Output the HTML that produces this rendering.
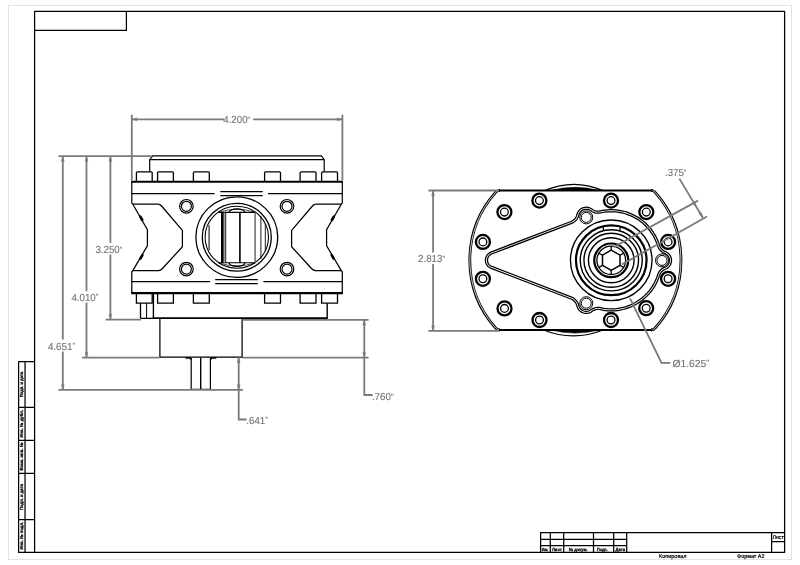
<!DOCTYPE html>
<html lang="ru">
<head>
<meta charset="utf-8">
<title>Drawing</title>
<style>
html,body{margin:0;padding:0;background:#fff;}
body{width:800px;height:565px;overflow:hidden;font-family:"Liberation Sans",sans-serif;}
svg{display:block;position:absolute;left:0;top:0;will-change:transform;}
.k{stroke:#000;fill:none;stroke-width:1.25;}
.k2{stroke:#000;fill:none;stroke-width:1.9;}
.kt{stroke:#000;fill:none;stroke-width:0.8;}
.w{stroke:#000;fill:#fff;stroke-width:1.1;}
.g{stroke:#7a7a7a;fill:none;stroke-width:1.8;}
.ga{fill:#7a7a7a;stroke:#7a7a7a;stroke-width:0.5;stroke-linejoin:round;}
.dim{font-family:"Liberation Sans",sans-serif;font-size:10.2px;fill:#747474;stroke:#747474;stroke-width:0.12px;text-rendering:geometricPrecision;}
.tiny{text-rendering:geometricPrecision;font-family:"Liberation Sans",sans-serif;font-size:4.4px;fill:#000;font-weight:bold;stroke:#000;stroke-width:0.25px;}
.sm{text-rendering:geometricPrecision;font-family:"Liberation Sans",sans-serif;font-size:5.6px;fill:#000;stroke:#000;stroke-width:0.2px;}
</style>
</head>
<body>
<svg width="800" height="565" viewBox="0 0 800 565">
<rect x="0" y="0" width="800" height="565" fill="#fff"/>

<!-- sheet edge -->
<g id="sheet">
<rect x="8.5" y="5.5" width="783" height="554" fill="none" stroke="#e2e2e2" style="stroke-width:1"/>
</g>

<!-- frame -->
<g id="frame" class="k" style="stroke-width:1.25;stroke-linejoin:round">
<rect x="34.6" y="11.4" width="750" height="541"/>
<path d="M34.6,30.4 H126.4 V11.4"/>
<path d="M34.6,361.5 H18.6 V552.4 H34.6"/>
<path d="M25.05,361.5 V552.4"/>
<path d="M18.6,407.3 H34.6 M18.6,440.3 H34.6 M18.6,473.4 H34.6 M18.6,519.5 H34.6"/>
<path d="M540.6,552.4 V532.6 H784.6"/>
<path d="M550.3,532.6 V552.4 M563.7,532.6 V552.4 M593.5,532.6 V552.4 M613.7,532.6 V552.4 M626.7,532.6 V552.4"/>
<path d="M540.6,539.4 H626.6 M540.6,545.7 H626.6"/>
<path d="M771.6,532.6 V552.4 M771.6,541.6 H784.6"/>
</g>

<!-- frame texts -->
<g id="frametext">
<g text-anchor="middle">
<text class="tiny" transform="translate(22.9,384.5) rotate(-90)" textLength="25.4" lengthAdjust="spacingAndGlyphs">Подп. и дата</text>
<text class="tiny" transform="translate(22.9,423.8) rotate(-90)" textLength="27.6" lengthAdjust="spacingAndGlyphs">Инв. № дубл.</text>
<text class="tiny" transform="translate(22.9,456.6) rotate(-90)" textLength="28" lengthAdjust="spacingAndGlyphs">Взам. инв. №</text>
<text class="tiny" transform="translate(22.9,497) rotate(-90)" textLength="26" lengthAdjust="spacingAndGlyphs">Подп. и дата</text>
<text class="tiny" transform="translate(22.9,535.6) rotate(-90)" textLength="27.6" lengthAdjust="spacingAndGlyphs">Инв. № подл.</text>
</g>
<text class="tiny" x="541.8" y="551" textLength="6.6" lengthAdjust="spacingAndGlyphs">Изм.</text>
<text class="tiny" x="551.9" y="551" textLength="10" lengthAdjust="spacingAndGlyphs">Лист</text>
<text class="tiny" x="568.7" y="551" textLength="18.8" lengthAdjust="spacingAndGlyphs">№ докум.</text>
<text class="tiny" x="596.9" y="551" textLength="10.8" lengthAdjust="spacingAndGlyphs">Подп.</text>
<text class="tiny" x="615.6" y="551" textLength="9.4" lengthAdjust="spacingAndGlyphs">Дата</text>
<text class="sm" x="772.6" y="538.5" textLength="11.2" lengthAdjust="spacingAndGlyphs">Лист</text>
<text class="sm" x="659" y="557.8" textLength="27.5" lengthAdjust="spacingAndGlyphs">Копировал</text>
<text class="sm" x="737" y="558" textLength="27.5" lengthAdjust="spacingAndGlyphs">Формат A2</text>
</g>

<!-- ============ LEFT VIEW ============ -->
<g id="leftview">
<!-- top cap -->
<path class="k" d="M149.7,171.7 V159.6 L152.6,155.9 H321.4 L324.2,159.6 V171.7" style="stroke-width:1.2"/><path class="k" d="M149.7,159.6 H324.2" style="stroke-width:1.25"/>
<!-- top bolts -->
<g class="k" style="stroke-width:1.3">
<path d="M136.4,181.5 V172.7 Q136.4,171.8 137.4,171.8 H151.2 Q152.2,171.8 152.2,172.7 V181.5"/>
<path d="M157.6,181.5 V172.7 Q157.6,171.8 158.6,171.8 H172.4 Q173.4,171.8 173.4,172.7 V181.5"/>
<path d="M193.4,181.5 V172.7 Q193.4,171.8 194.4,171.8 H208.3 Q209.3,171.8 209.3,172.7 V181.5"/>
<path d="M264.6,181.5 V172.7 Q264.6,171.8 265.6,171.8 H279.5 Q280.5,171.8 280.5,172.7 V181.5"/>
<path d="M300.1,181.5 V172.7 Q300.1,171.8 301.1,171.8 H315 Q316,171.8 316,172.7 V181.5"/>
<path d="M321.6,181.5 V172.7 Q321.6,171.8 322.6,171.8 H336.5 Q337.5,171.8 337.5,172.7 V181.5"/>
</g>
<!-- upper flange -->
<path class="k2" d="M131.2,181.7 H342.9"/>
<path class="k" d="M131.8,181.7 V203 L133,204.2 H158.3 M342.3,181.7 V203 L341.2,204.2 H315.7" style="stroke-width:1.2"/>
<path class="k" d="M131.8,193.5 H214.6 M267.9,193.5 H342.3"/>
<path class="k" d="M220.3,191.5 H262.7 M220.3,195.5 H262.7"/>
<!-- body sides -->
<path class="k" d="M158.3,204.2 Q160.5,204.6 162,206.5 L182.4,230.4 V246.7 L162.5,268.5 Q161,270.3 158.8,270.6 H133 L131.8,271.8 V293"/>
<path class="k" d="M315.7,204.2 Q313.5,204.6 312,206.5 L291.6,230.4 V246.7 L311.5,268.5 Q313,270.3 315.2,270.6 H341.2 L342.3,271.8 V293"/>
<path class="k" d="M132.8,204.2 L147.4,229.6 V245.8 L132.8,270.6"/>
<path class="k" d="M341.3,204.2 L326.6,229.6 V245.8 L341.3,270.6"/>
<path class="k" stroke-linecap="round" d="M140.3,216.6 L142.2,220 M140.6,258.3 L142.4,255.2 M333.8,216.6 L331.9,220 M333.5,258.3 L331.7,255.2" style="stroke-width:2.6"/>
<!-- lower flange -->
<path class="k" d="M131.8,281.6 H210 M263.4,281.6 H342.3"/>
<path class="k" d="M215.2,279.7 H257.9 M215.2,283.5 H257.9"/>
<path class="k2" d="M131.2,293.1 H342.9" style="stroke-width:2.2"/>
<!-- bolt holes -->
<g class="k">
<circle cx="186.4" cy="206.3" r="6.8" style="stroke-width:1.2"/><circle cx="186.4" cy="206.3" r="5" style="stroke-width:1.2"/>
<circle cx="287" cy="206.3" r="6.8" style="stroke-width:1.2"/><circle cx="287" cy="206.3" r="5" style="stroke-width:1.2"/>
<circle cx="186.4" cy="269.1" r="6.8" style="stroke-width:1.2"/><circle cx="186.4" cy="269.1" r="5" style="stroke-width:1.2"/>
<circle cx="287" cy="269.1" r="6.8" style="stroke-width:1.2"/><circle cx="287" cy="269.1" r="5" style="stroke-width:1.2"/>
</g>
<!-- central port -->
<g class="k">
<ellipse cx="236.8" cy="237.1" rx="40.9" ry="40.3" style="stroke-width:1.3"/>
<ellipse cx="236.8" cy="237.3" rx="34.5" ry="33.9" style="stroke-width:1.3"/>
<ellipse cx="236.8" cy="237.3" rx="31.7" ry="31" style="stroke-width:1.05"/>
<path d="M218.5,212.4 H255.3 M218.5,262.8 H255.3" style="stroke-width:1.1"/>
<path d="M228.9,212.4 Q230.4,208.9 237,208.9 Q243.6,208.9 245.1,212.4 M228.9,262.8 Q230.4,266.4 237,266.4 Q243.6,266.4 245.1,262.8" style="stroke-width:1.15"/>
<path d="M218.5,212.4 Q228,209.2 237,209.2 Q246,209.2 255.3,212.4 M218.5,262.8 Q228,266 237,266 Q246,266 255.3,262.8" style="stroke-width:0.7"/>
<path d="M222.4,212.4 V262.8" style="stroke-width:2.8"/>
<path d="M224.3,212.4 V262.8" style="stroke-width:1.2;stroke:#999"/><path d="M225.7,212.4 V262.8" style="stroke-width:0.9"/>
<path d="M239.9,212.4 V262.8" style="stroke-width:1.6"/>
<path d="M255.1,212.4 V262.8" stroke="#555" style="stroke-width:1.3"/>
<path d="M260.9,216 V259" style="stroke-width:0.9"/>
<path d="M265.3,224 V251" style="stroke-width:0.9"/>
<path d="M209.1,225 V250.5" style="stroke-width:1.4;stroke:#444"/>
</g>
<!-- lower bolts -->
<g class="k" style="stroke-width:1.3">
<path d="M136.4,293 V303.2 H152.2 V293"/>
<path d="M157.6,293 V303.2 H173.4 V293"/>
<path d="M193.4,293 V303.2 H209.3 V293"/>
<path d="M264.6,293 V303.2 H280.5 V293"/>
<path d="M300.1,293 V303.2 H316 V293"/>
<path d="M321.6,293 V303.2 H337.5 V293"/>
</g>
<!-- lower cap -->
<path class="k" d="M153.4,293 V318.2 M327.2,303.2 V318.2" style="stroke-width:1.4"/>
<path class="k" d="M140.5,303.2 V317.4 Q140.5,318.4 141.5,318.4 H153" style="stroke-width:1.3"/><path class="k" d="M152.8,318.2 H327.8" style="stroke-width:1.7"/>
<path class="k" d="M146.6,303.2 V318" style="stroke-width:1"/>
<!-- cylinder -->
<path class="k" d="M159.9,318.8 V357.2 H242.1 V318.8" style="stroke-width:1.25"/>
<!-- shaft -->
<path class="k" d="M191.2,358 V389.4 H210.4 V358" style="stroke-width:1.2"/><path class="k" d="M185.5,358 H190 L191.2,359.6 M216.3,358 H211.6 L210.4,359.6" style="stroke-width:1.5"/>
<path class="k" d="M200.7,357.4 V389.4" style="stroke-width:1.4"/>
</g>

<!-- ============ LEFT VIEW DIMENSIONS ============ -->
<g id="leftdims">
<!-- 4.200 -->
<path class="g" d="M131.8,114.7 V180.6 M342.4,114.7 V180.6"/>
<path class="g" d="M131.8,119.3 H224 M253.2,119.3 H342.4"/>
<path class="ga" d="M131.8,119.3 L137,117.9 V120.7 Z M342.4,119.3 L337.2,117.9 V120.7 Z"/>
<text class="dim" x="223.2" y="123.2" textLength="27.0" lengthAdjust="spacingAndGlyphs">4.200<tspan style="font-size:7.6px" dy="-1.5">"</tspan></text>
<!-- horizontal extension lines -->
<path class="g" d="M58.4,156.1 H152"/>
<path class="g" d="M105.6,319.6 H141 M242.4,319.9 H368.6"/>
<path class="g" d="M82,357.7 H159.5 M242.4,357.6 H368.6"/>
<path class="g" d="M58.4,389.9 H243"/>
<!-- vertical dim lines -->
<path class="g" d="M62.8,156.1 V339.4 M62.8,351.4 V389.9"/>
<path class="g" d="M86.5,156.1 V291.2 M86.5,302.6 V357.7"/>
<path class="g" d="M110.4,156.1 V243 M110.4,254.5 V319.6"/>
<path class="ga" d="M62.8,156.6 L61.4,161.3 H64.2 Z M86.5,156.6 L85.1,161.3 H87.9 Z M110.4,156.6 L109,161.3 H111.8 Z"/>
<path class="ga" d="M62.8,389.4 L61.4,384.7 H64.2 Z M86.5,357.2 L85.1,352.5 H87.9 Z M110.4,319.1 L109,314.4 H111.8 Z"/>
<text class="dim" x="95.4" y="253.1" textLength="26.9" lengthAdjust="spacingAndGlyphs">3.250<tspan style="font-size:7.6px" dy="-1.5">"</tspan></text>
<text class="dim" x="71.4" y="300.6" textLength="27.0" lengthAdjust="spacingAndGlyphs">4.010<tspan style="font-size:7.6px" dy="-1.5">"</tspan></text>
<text class="dim" x="47.9" y="349.5" textLength="27.2" lengthAdjust="spacingAndGlyphs">4.651<tspan style="font-size:7.6px" dy="-1.5">"</tspan></text>
<!-- .760 -->
<path class="g" d="M364.3,319.9 V395 H372.6"/>
<path class="ga" d="M364.2,319.9 L362.8,325.1 H365.6 Z M364.2,357.6 L362.8,352.4 H365.6 Z"/>
<text class="dim" x="371.9" y="400.3" textLength="21.6" lengthAdjust="spacingAndGlyphs">.760<tspan style="font-size:7.6px" dy="-1.5">"</tspan></text>
<!-- .641 -->
<path class="g" d="M238.7,357.6 V419.5 H246.6"/>
<path class="ga" d="M238.7,357.6 L237.3,362.8 H240.1 Z M238.7,389.9 L237.3,384.7 H240.1 Z"/>
<text class="dim" x="246.3" y="423.9" textLength="21.5" lengthAdjust="spacingAndGlyphs">.641<tspan style="font-size:7.6px" dy="-1.5">"</tspan></text>
</g>

<!-- ============ RIGHT VIEW ============ -->
<g id="rightview">
<!-- top/bottom bumps -->
<path class="k" d="M545,190.4 Q574,178.2 602.5,190.4" style="stroke-width:1.3"/>
<path d="M551,190.4 Q575,184.2 599,190.4 Z" fill="#000" stroke="#000" stroke-width="0.6"/>
<path class="k" d="M543.5,330 Q573.5,341.8 603,330" style="stroke-width:1.3"/>
<path d="M551,330 Q575,336.2 599,330 Z" fill="#000" stroke="#000" stroke-width="0.6"/>
<!-- flange outline -->
<path d="M500,190.4 H651 Q653.6,190.4 655.2,192.4 A102,102 0 0 1 655.2,328 Q653.6,330 651,330 H500 Q497.2,330 495.6,328 A102,102 0 0 1 495.6,192.4 Q497.2,190.4 500,190.4 Z" fill="#fff" stroke="none"/>
<g fill="none" stroke="#000" style="stroke-width:2.8">
<path d="M651,190.4 Q653.6,190.4 655.2,192.4 A102,102 0 0 1 655.2,328 Q653.6,330 651,330"/>
<path d="M500,330 Q497.2,330 495.6,328 A102,102 0 0 1 495.6,192.4 Q497.2,190.4 500,190.4"/>
</g>
<g fill="none" stroke="#fff" style="stroke-width:0.8">
<path d="M651,190.4 Q653.6,190.4 655.2,192.4 A102,102 0 0 1 655.2,328 Q653.6,330 651,330"/>
<path d="M500,330 Q497.2,330 495.6,328 A102,102 0 0 1 495.6,192.4 Q497.2,190.4 500,190.4"/>
</g>
<path class="k2" d="M499,190.4 H652.5 M499,330 H652.5" style="stroke-width:2"/>
<!-- plate (double outline) -->
<path class="k" style="stroke-width:1.25;stroke-linejoin:round" d="M570.9,299.0 572.2,299.6 573.3,300.4 574.4,301.3 575.1,302.2 575.8,303.2 576.3,304.2 576.6,305.1 577.1,306.8 577.6,308.1 578.4,309.3 579.4,310.5 580.6,311.6 581.9,312.4 583.5,313.0 585.0,313.3 586.1,313.4 587.1,313.4 588.2,313.2 589.2,312.9 590.1,312.6 591.0,312.2 593.0,310.8 594.0,310.3 595.3,309.8 596.6,309.5 598.0,309.4 599.2,309.5 603.8,310.3 607.6,310.8 611.3,310.9 615.0,310.8 616.9,310.6 619.3,310.3 623.0,309.5 625.3,308.9 627.1,308.3 628.9,307.7 631.2,306.8 634.0,305.5 636.7,304.0 639.3,302.4 641.9,300.6 644.3,298.6 647.0,296.1 649.1,293.8 651.1,291.5 652.6,289.5 653.7,287.9 655.0,285.8 656.2,283.6 657.0,281.9 658.0,279.6 658.9,277.4 659.9,274.5 660.4,273.5 660.9,272.7 662.0,271.4 663.2,270.4 664.4,269.7 666.5,268.8 667.3,268.3 668.0,267.8 669.2,266.6 669.8,265.8 670.3,265.0 670.8,264.1 671.1,263.1 671.4,262.1 671.5,260.9 671.5,259.8 671.4,258.7 671.1,257.7 670.8,256.7 670.3,255.8 669.7,254.9 669.1,254.1 668.2,253.2 667.5,252.7 666.7,252.2 665.9,251.7 664.5,251.1 663.3,250.4 662.0,249.4 661.0,248.2 660.5,247.4 659.9,246.3 658.9,243.2 658.0,241.0 657.0,238.7 655.9,236.4 654.3,233.8 653.0,231.7 651.5,229.6 650.0,227.7 648.3,225.9 647.0,224.5 645.3,222.8 643.8,221.6 641.9,220.0 640.4,218.9 638.8,217.9 636.8,216.6 635.1,215.7 632.9,214.6 631.2,213.8 628.9,212.9 627.1,212.2 624.8,211.5 622.9,211.1 620.5,210.6 618.1,210.2 615.6,209.9 612.5,209.7 610.0,209.7 607.5,209.8 605.0,210.1 602.6,210.4 599.0,211.1 598.0,211.2 597.1,211.1 595.5,210.9 594.0,210.3 593.0,209.8 591.1,208.5 589.6,207.8 588.0,207.4 586.3,207.2 585.5,207.2 584.5,207.4 583.6,207.6 582.7,207.9 581.8,208.3 581.0,208.7 580.2,209.3 579.5,209.9 578.5,211.1 577.6,212.5 577.1,213.7 576.6,215.4 576.3,216.2 575.9,217.1 575.3,218.1 574.6,219.0 573.7,219.8 572.8,220.5 571.8,221.1 570.9,221.5 490.8,252.1 489.4,252.9 488.2,253.8 487.1,255.0 486.4,256.2 486.0,257.0 485.7,257.8 485.5,258.7 485.4,259.5 485.4,260.4 485.5,261.2 485.6,262.1 485.8,262.9 486.1,263.7 486.5,264.4 487.0,265.2 487.5,265.8 488.1,266.5 488.7,267.0 489.4,267.5 490.1,267.9 491.0,268.3Z"/>
<path class="k" style="stroke-width:1.25;stroke-linejoin:round" d="M571.7,297.1 573.2,297.8 574.4,298.6 575.6,299.7 576.6,300.8 577.4,302.0 578.1,303.2 578.6,304.5 579.0,306.1 579.4,307.1 580.0,308.1 580.7,309.0 581.7,309.9 582.8,310.5 583.9,311.0 585.2,311.3 586.0,311.3 587.0,311.3 587.9,311.2 588.7,311.0 590.1,310.3 591.9,309.1 593.2,308.4 594.7,307.8 596.4,307.5 597.8,307.4 599.2,307.4 604.1,308.3 607.7,308.7 611.2,308.8 614.2,308.8 616.6,308.6 618.4,308.3 621.9,307.7 624.2,307.1 625.9,306.6 629.3,305.4 632.0,304.2 634.7,302.8 637.2,301.3 639.7,299.6 642.1,297.8 644.3,295.9 646.4,293.8 648.8,291.1 650.3,289.2 651.6,287.3 652.9,285.2 654.1,283.2 655.1,281.0 656.1,278.9 656.8,277.2 658.1,273.5 658.6,272.5 659.2,271.5 660.5,270.0 661.9,268.8 663.3,267.9 665.5,267.0 666.6,266.2 667.5,265.4 668.4,264.3 668.8,263.5 669.1,262.7 669.3,261.8 669.4,261.0 669.4,260.2 669.4,259.3 669.2,258.4 668.9,257.6 668.5,256.8 668.1,256.1 667.5,255.4 666.8,254.7 665.6,253.9 663.4,252.9 661.9,252.0 660.6,250.8 659.3,249.4 658.7,248.4 658.1,247.3 657.8,246.3 657.0,243.9 656.1,241.7 655.1,239.6 654.1,237.4 652.6,234.8 651.3,232.9 649.9,230.9 648.4,229.0 646.8,227.3 645.6,226.0 643.9,224.3 642.5,223.1 640.7,221.7 639.2,220.6 637.2,219.3 635.7,218.4 634.1,217.5 632.0,216.4 629.8,215.5 628.1,214.8 625.9,214.0 624.2,213.5 621.9,212.9 620.1,212.6 617.8,212.2 614.8,211.9 612.4,211.8 610.0,211.8 607.7,211.9 604.7,212.2 602.9,212.5 599.2,213.2 598.1,213.2 596.9,213.2 595.0,212.9 593.4,212.3 591.9,211.5 590.1,210.3 588.9,209.7 587.6,209.4 586.3,209.3 584.8,209.4 583.4,209.8 582.7,210.1 582.0,210.6 580.8,211.5 580.0,212.5 579.4,213.5 579.0,214.5 578.6,216.0 578.2,217.0 577.6,218.3 577.0,219.3 576.1,220.4 575.0,221.4 573.9,222.2 572.7,222.9 571.7,223.4 491.6,254.0 490.5,254.6 489.5,255.4 488.7,256.3 488.1,257.3 487.7,258.5 487.5,259.8 487.5,261.1 487.8,262.4 488.4,263.6 489.1,264.6 490.1,265.5 491.2,266.2Z"/>
<!-- small holes -->
<g class="k" style="stroke-width:1">
<circle cx="586.25" cy="217.4" r="6.5"/><circle cx="586.25" cy="303.2" r="6.5"/><circle cx="662" cy="260.4" r="6.5"/>
<circle cx="586.25" cy="217.4" r="5"/><circle cx="586.25" cy="303.2" r="5"/><circle cx="662" cy="260.4" r="5"/>
</g>
<!-- flange bolts -->
<g fill="#fff" stroke="#000">
<g style="stroke-width:2.3"><circle cx="539.4" cy="200.6" r="7"/><circle cx="504.4" cy="212.1" r="7"/><circle cx="482.9" cy="241.9" r="7"/><circle cx="482.9" cy="278.8" r="7"/><circle cx="504.5" cy="308.4" r="7"/><circle cx="539.5" cy="320" r="7"/>
<circle cx="611" cy="200.6" r="7"/><circle cx="646.3" cy="212.1" r="7"/><circle cx="668.1" cy="241.9" r="7"/><circle cx="668.1" cy="278.8" r="7"/><circle cx="646.2" cy="308.2" r="7"/><circle cx="611" cy="320" r="7"/></g>
<g style="stroke-width:1.3"><circle cx="539.4" cy="200.6" r="3.9"/><circle cx="504.4" cy="212.1" r="3.9"/><circle cx="482.9" cy="241.9" r="3.9"/><circle cx="482.9" cy="278.8" r="3.9"/><circle cx="504.5" cy="308.4" r="3.9"/><circle cx="539.5" cy="320" r="3.9"/>
<circle cx="611" cy="200.6" r="3.9"/><circle cx="646.3" cy="212.1" r="3.9"/><circle cx="668.1" cy="241.9" r="3.9"/><circle cx="668.1" cy="278.8" r="3.9"/><circle cx="646.2" cy="308.2" r="3.9"/><circle cx="611" cy="320" r="3.9"/></g>
</g>
<!-- hub -->
<g class="k">
<ellipse cx="611.25" cy="260.3" rx="40.8" ry="40.3" style="stroke-width:1.35"/>
<ellipse cx="611.25" cy="260.3" rx="35.3" ry="34.9" style="stroke-width:2.2"/>
<ellipse cx="611.25" cy="260.3" rx="31.0" ry="30.6" style="stroke-width:1.4"/>
<ellipse cx="611.25" cy="260.3" rx="27.3" ry="27.0" style="stroke-width:1.4"/>
<ellipse cx="611.25" cy="260.3" rx="22.8" ry="22.5" style="stroke-width:1.4"/>
<ellipse cx="611.25" cy="260.3" rx="17.0" ry="16.8" style="stroke-width:2.2"/>
<ellipse cx="611.25" cy="260.3" rx="14.4" ry="14.2" style="stroke-width:1.3"/>
<path d="M603.4,230.4 V226.4 M620.1,230.4 V226.4" style="stroke-width:1.2"/>
<polygon points="611.2,250.2 620.0,255.2 620.0,265.4 611.2,270.4 602.5,265.4 602.5,255.2" style="stroke-width:1.5"/>
<path d="M611.2,250.2 L611.2,246.1 M620.0,255.2 L623.5,253.2 M620.0,265.4 L623.5,267.4 M611.2,270.4 L611.2,274.5 M602.5,265.4 L599.0,267.4 M602.5,255.2 L599.0,253.2" style="stroke-width:1.3"/>
</g>
</g>

<!-- ============ RIGHT VIEW DIMENSIONS ============ -->
<g id="rightdims">
<!-- 2.813 -->
<path class="g" d="M428.4,190.5 H498.5 M428.4,330.8 H498.5"/>
<path class="g" d="M433.1,190.5 V252.6 M433.1,264 V331"/>
<path class="ga" d="M433.1,190.5 L431.7,195.7 H434.5 Z M433.1,331 L431.7,325.8 H434.5 Z"/>
<text class="dim" x="418.0" y="262.3" textLength="27.0" lengthAdjust="spacingAndGlyphs">2.813<tspan style="font-size:7.6px" dy="-1.5">"</tspan></text>
<!-- .375 -->
<path class="g" d="M613.5,247.2 L698,200.6 M622,264.4 L707,216.5"/>
<path class="g" d="M679.4,178.6 L703,218"/>
<path class="ga" d="M696.3,206.9 L692.5,203.2 L694.9,201.8 Z M702.6,217.4 L698.8,213.7 L701.2,212.3 Z"/>
<text class="dim" x="665.0" y="176.3" textLength="21.3" lengthAdjust="spacingAndGlyphs">.375<tspan style="font-size:7.6px" dy="-1.5">"</tspan></text>
<!-- dia 1.625 -->
<path class="g" d="M630,298.4 L661.5,362.9 H670.3"/>
<text class="dim" x="672.4" y="366.9" textLength="36.6" lengthAdjust="spacingAndGlyphs">Ø1.625<tspan style="font-size:7.6px" dy="-1.5">"</tspan></text>
</g>
</svg>
</body>
</html>
